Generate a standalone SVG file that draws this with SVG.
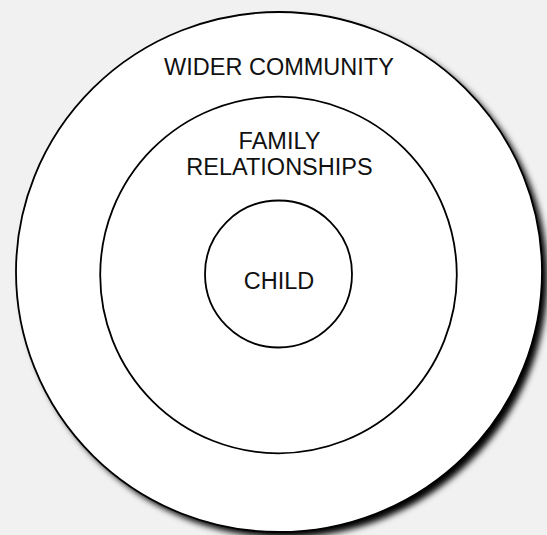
<svg xmlns="http://www.w3.org/2000/svg" width="547" height="535" viewBox="0 0 547 535">
  <defs>
    <filter id="blur" x="-10%" y="-10%" width="130%" height="130%">
      <feGaussianBlur stdDeviation="3"/>
    </filter>
  </defs>
  <style>
    .ring { fill: #ffffff; stroke: #000000; stroke-width: 1.8; }
    .label { font-family: "Liberation Sans", Arial, sans-serif; font-size: 23.5px; fill: #111111; text-anchor: middle; }
  </style>
  <rect x="0" y="0" width="547" height="535" fill="#f1f1f1"/>
  <g id="wider-community">
    <ellipse cx="284.5" cy="277.5" rx="263" ry="260" fill="#000000" filter="url(#blur)"/>
    <ellipse class="ring" cx="279" cy="272" rx="263" ry="260"/>
    <text class="label" x="279" y="74.5">WIDER COMMUNITY</text>
  </g>
  <g id="family-relationships">
    <circle class="ring" cx="278.5" cy="275" r="178.3"/>
    <text class="label" x="279.5" y="148.7">FAMILY</text>
    <text class="label" x="279.5" y="175.2">RELATIONSHIPS</text>
  </g>
  <g id="child">
    <circle class="ring" cx="278.5" cy="274" r="73.5"/>
    <text class="label" x="279" y="289">CHILD</text>
  </g>
  <g id="connectors"/>
</svg>
